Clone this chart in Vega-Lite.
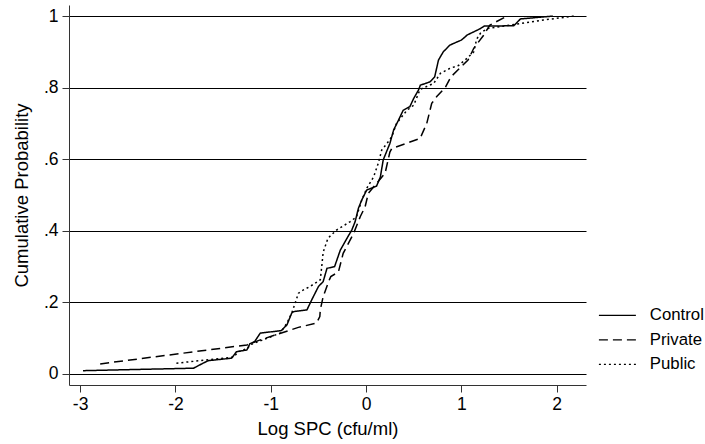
{
  "$schema": "https://vega.github.io/schema/vega-lite/v6.json",
  "width": 517,
  "height": 380,
  "autosize": {"type": "none"},
  "padding": {"left": 69, "top": 5, "right": 119, "bottom": 59},
  "background": "white",
  "config": {
    "view": {"stroke": null},
    "font": "Liberation Sans",
    "axis": {"labelFont": "Liberation Sans", "titleFont": "Liberation Sans", "labelColor": "black", "titleColor": "black", "titleFontWeight": "normal", "domainColor": "#333", "tickColor": "#333", "domainWidth": 1, "tickWidth": 1, "tickSize": 7},
    "legend": {"labelFont": "Liberation Sans", "labelColor": "black"}
  },
  "data": {
    "values": [
      {"g": "Control", "x": -2.97, "p": 0.009},
      {"g": "Control", "x": -1.81, "p": 0.016},
      {"g": "Control", "x": -1.71, "p": 0.030},
      {"g": "Control", "x": -1.655, "p": 0.037},
      {"g": "Control", "x": -1.41, "p": 0.044},
      {"g": "Control", "x": -1.36, "p": 0.062},
      {"g": "Control", "x": -1.25, "p": 0.067},
      {"g": "Control", "x": -1.22, "p": 0.084},
      {"g": "Control", "x": -1.17, "p": 0.090},
      {"g": "Control", "x": -1.11, "p": 0.114},
      {"g": "Control", "x": -0.89, "p": 0.121},
      {"g": "Control", "x": -0.83, "p": 0.137},
      {"g": "Control", "x": -0.78, "p": 0.170},
      {"g": "Control", "x": -0.76, "p": 0.174},
      {"g": "Control", "x": -0.62, "p": 0.179},
      {"g": "Control", "x": -0.57, "p": 0.207},
      {"g": "Control", "x": -0.50, "p": 0.244},
      {"g": "Control", "x": -0.45, "p": 0.258},
      {"g": "Control", "x": -0.41, "p": 0.295},
      {"g": "Control", "x": -0.33, "p": 0.300},
      {"g": "Control", "x": -0.27, "p": 0.346},
      {"g": "Control", "x": -0.20, "p": 0.379},
      {"g": "Control", "x": -0.15, "p": 0.402},
      {"g": "Control", "x": -0.115, "p": 0.425},
      {"g": "Control", "x": -0.08, "p": 0.463},
      {"g": "Control", "x": -0.045, "p": 0.486},
      {"g": "Control", "x": 0.007, "p": 0.514},
      {"g": "Control", "x": 0.11, "p": 0.525},
      {"g": "Control", "x": 0.15, "p": 0.550},
      {"g": "Control", "x": 0.18, "p": 0.598},
      {"g": "Control", "x": 0.25, "p": 0.644},
      {"g": "Control", "x": 0.29, "p": 0.682},
      {"g": "Control", "x": 0.34, "p": 0.709},
      {"g": "Control", "x": 0.39, "p": 0.737},
      {"g": "Control", "x": 0.46, "p": 0.747},
      {"g": "Control", "x": 0.50, "p": 0.770},
      {"g": "Control", "x": 0.55, "p": 0.793},
      {"g": "Control", "x": 0.57, "p": 0.807},
      {"g": "Control", "x": 0.67, "p": 0.816},
      {"g": "Control", "x": 0.72, "p": 0.830},
      {"g": "Control", "x": 0.76, "p": 0.877},
      {"g": "Control", "x": 0.81, "p": 0.900},
      {"g": "Control", "x": 0.88, "p": 0.919},
      {"g": "Control", "x": 1.00, "p": 0.933},
      {"g": "Control", "x": 1.04, "p": 0.942},
      {"g": "Control", "x": 1.06, "p": 0.947},
      {"g": "Control", "x": 1.13, "p": 0.956},
      {"g": "Control", "x": 1.20, "p": 0.965},
      {"g": "Control", "x": 1.24, "p": 0.972},
      {"g": "Control", "x": 1.55, "p": 0.973},
      {"g": "Control", "x": 1.62, "p": 0.992},
      {"g": "Control", "x": 1.83, "p": 0.997},
      {"g": "Control", "x": 1.96, "p": 1.0},
      {"g": "Private", "x": -2.79, "p": 0.028},
      {"g": "Private", "x": -1.25, "p": 0.081},
      {"g": "Private", "x": -1.11, "p": 0.095},
      {"g": "Private", "x": -0.71, "p": 0.130},
      {"g": "Private", "x": -0.52, "p": 0.142},
      {"g": "Private", "x": -0.485, "p": 0.160},
      {"g": "Private", "x": -0.48, "p": 0.179},
      {"g": "Private", "x": -0.45, "p": 0.216},
      {"g": "Private", "x": -0.39, "p": 0.260},
      {"g": "Private", "x": -0.37, "p": 0.272},
      {"g": "Private", "x": -0.29, "p": 0.285},
      {"g": "Private", "x": -0.24, "p": 0.337},
      {"g": "Private", "x": -0.13, "p": 0.393},
      {"g": "Private", "x": -0.06, "p": 0.440},
      {"g": "Private", "x": -0.01, "p": 0.467},
      {"g": "Private", "x": 0.024, "p": 0.505},
      {"g": "Private", "x": 0.20, "p": 0.561},
      {"g": "Private", "x": 0.25, "p": 0.620},
      {"g": "Private", "x": 0.27, "p": 0.630},
      {"g": "Private", "x": 0.567, "p": 0.658},
      {"g": "Private", "x": 0.637, "p": 0.700},
      {"g": "Private", "x": 0.689, "p": 0.756},
      {"g": "Private", "x": 0.742, "p": 0.775},
      {"g": "Private", "x": 0.83, "p": 0.800},
      {"g": "Private", "x": 0.89, "p": 0.830},
      {"g": "Private", "x": 1.07, "p": 0.877},
      {"g": "Private", "x": 1.13, "p": 0.910},
      {"g": "Private", "x": 1.23, "p": 0.945},
      {"g": "Private", "x": 1.30, "p": 0.975},
      {"g": "Private", "x": 1.48, "p": 1.0},
      {"g": "Public", "x": -1.99, "p": 0.030},
      {"g": "Public", "x": -1.39, "p": 0.047},
      {"g": "Public", "x": -1.34, "p": 0.062},
      {"g": "Public", "x": -1.24, "p": 0.072},
      {"g": "Public", "x": -1.22, "p": 0.081},
      {"g": "Public", "x": -0.90, "p": 0.114},
      {"g": "Public", "x": -0.83, "p": 0.142},
      {"g": "Public", "x": -0.78, "p": 0.170},
      {"g": "Public", "x": -0.745, "p": 0.197},
      {"g": "Public", "x": -0.71, "p": 0.225},
      {"g": "Public", "x": -0.69, "p": 0.230},
      {"g": "Public", "x": -0.59, "p": 0.244},
      {"g": "Public", "x": -0.48, "p": 0.263},
      {"g": "Public", "x": -0.465, "p": 0.300},
      {"g": "Public", "x": -0.45, "p": 0.340},
      {"g": "Public", "x": -0.40, "p": 0.379},
      {"g": "Public", "x": -0.31, "p": 0.402},
      {"g": "Public", "x": -0.17, "p": 0.425},
      {"g": "Public", "x": -0.10, "p": 0.439},
      {"g": "Public", "x": -0.045, "p": 0.486},
      {"g": "Public", "x": 0.01, "p": 0.520},
      {"g": "Public", "x": 0.08, "p": 0.551},
      {"g": "Public", "x": 0.13, "p": 0.590},
      {"g": "Public", "x": 0.165, "p": 0.626},
      {"g": "Public", "x": 0.22, "p": 0.644},
      {"g": "Public", "x": 0.27, "p": 0.663},
      {"g": "Public", "x": 0.32, "p": 0.700},
      {"g": "Public", "x": 0.43, "p": 0.737},
      {"g": "Public", "x": 0.50, "p": 0.751},
      {"g": "Public", "x": 0.567, "p": 0.795},
      {"g": "Public", "x": 0.71, "p": 0.812},
      {"g": "Public", "x": 0.78, "p": 0.840},
      {"g": "Public", "x": 0.88, "p": 0.854},
      {"g": "Public", "x": 0.97, "p": 0.862},
      {"g": "Public", "x": 1.06, "p": 0.882},
      {"g": "Public", "x": 1.13, "p": 0.900},
      {"g": "Public", "x": 1.16, "p": 0.935},
      {"g": "Public", "x": 1.20, "p": 0.952},
      {"g": "Public", "x": 1.27, "p": 0.965},
      {"g": "Public", "x": 1.51, "p": 0.975},
      {"g": "Public", "x": 1.86, "p": 0.989},
      {"g": "Public", "x": 2.18, "p": 1.0}
    ]
  },
  "mark": {"type": "line", "color": "black", "strokeWidth": 1.5, "strokeCap": "butt"},
  "encoding": {
    "x": {
      "field": "x", "type": "quantitative",
      "scale": {"domain": [-3.117, 2.308], "nice": false, "zero": false},
      "axis": {"values": [-3, -2, -1, 0, 1, 2], "grid": false, "title": "Log SPC (cfu/ml)", "labelFontSize": 17.5, "titleFontSize": 18.5, "labelPadding": 3, "titlePadding": 7, "labelFlush": false,
        "labelExpr": "'' + datum.value"}
    },
    "y": {
      "field": "p", "type": "quantitative",
      "scale": {"domain": [-0.031, 1.031], "nice": false, "zero": false},
      "axis": {"values": [0, 0.2, 0.4, 0.6, 0.8, 1], "grid": true, "gridColor": "black", "gridWidth": 1, "gridOpacity": 1, "title": "Cumulative Probability", "labelFontSize": 17.5, "titleFontSize": 18.5, "labelPadding": 4, "titlePadding": 12, "labelFlush": false,
        "labelExpr": "datum.value == 0 ? '0' : datum.value == 1 ? '1' : replace(format(datum.value, '.1f'), '0.', '.')"}
    },
    "strokeDash": {
      "field": "g", "type": "nominal",
      "scale": {"domain": ["Control", "Private", "Public"], "range": [[1, 0], [9, 5], [2, 3]]},
      "legend": {"title": null, "orient": "none", "legendX": 540, "legendY": 302, "padding": 0,
        "symbolType": "M-3,0H3", "symbolSize": 152, "symbolStrokeWidth": 1.4, "symbolStrokeColor": "black", "symbolFillColor": "transparent",
        "labelFontSize": 16.8, "labelOffset": 24, "rowPadding": 6.5}
    }
  }
}
